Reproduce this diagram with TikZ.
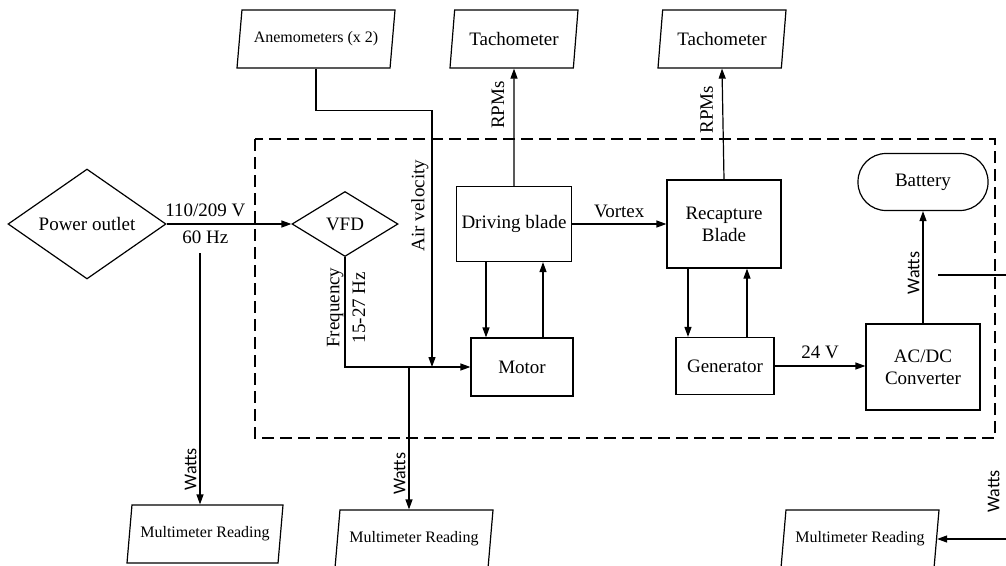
\documentclass[tikz,border=0pt]{standalone}
\usepackage{fontspec}
\setmainfont{Liberation Serif}
\newfontfamily\sansf{Carlito}
\usetikzlibrary{shapes.geometric,arrows.meta}
\begin{document}
\begin{tikzpicture}[x=1pt,y=-1pt,
  font=\fontsize{19}{22}\selectfont,
  line width=1.2pt,
  >={Triangle[length=10pt,width=7pt]},
  box/.style={draw, rectangle, align=center, inner sep=2pt},
  dia/.style={draw, diamond, inner sep=0pt},
  para/.style={draw, trapezium, trapezium left angle=75, trapezium right angle=105,
    trapezium stretches body, minimum height=58pt, inner sep=2pt},
  small/.style={font=\fontsize{16}{18}\selectfont},
  wlab/.style={font=\sansf\fontsize{18}{20}\selectfont},
  vlab/.style={rotate=90, anchor=south, inner sep=3pt},
  dashbox/.style={draw, dash pattern=on 12pt off 6pt, line width=1.1pt}
]
\useasboundingbox (0,0) rectangle (1006,565);
\clip (0,0) rectangle (1006,565);

% dashed system boundary
\draw[dashbox] (255,139) rectangle (995,438);

% nodes
\node[dia, minimum width=158pt, minimum height=90pt] (po) at (87,224) {Power outlet};
\node[dia, minimum width=106pt, minimum height=65pt] (vfd) at (345,224) {VFD};
\node[para, small, minimum width=158pt] (ane) at (316,39) {Anemometers (x 2)};
\node[para, minimum width=128pt] (tach1) at (514,39) {Tachometer};
\node[para, minimum width=128pt] (tach2) at (722,39) {Tachometer};
\node[box, minimum width=115pt, minimum height=75pt] (drv) at (514,224) {Driving blade};
\node[box, minimum width=114pt, minimum height=88pt] (rec) at (724,224) {Recapture\\Blade};
\node[box, minimum width=102pt, minimum height=58pt] (mot) at (522,367) {Motor};
\node[box, minimum width=98pt, minimum height=57pt] (gen) at (725,366) {Generator};
\node[box, minimum width=114pt, minimum height=86pt] (acdc) at (923,367) {AC/DC\\Converter};
\node[draw, rounded corners=28pt, minimum width=130pt, minimum height=57pt] (bat) at (923,182) {Battery};
\node[para, small, minimum width=156pt] (mm1) at (205,534) {Multimeter Reading};
\node[para, small, minimum width=158pt] (mm2) at (414,539) {Multimeter Reading};
\node[para, small, minimum width=158pt] (mm3) at (860,539) {Multimeter Reading};

% helper coordinates
\coordinate (w1) at (200,253);
\coordinate (av) at (432,367);
\coordinate (j2) at (409,367);
\coordinate (r0) at (938,275);
\coordinate (r1) at (1010,275);

% connectors
\draw[->] (po.east) -- (vfd.west)
  node[pos=0.31, above, inner sep=7pt] {110/209 V}
  node[pos=0.31, below, inner sep=6pt] {60 Hz};
\draw[->] (w1) -- (w1 |- mm1.north) node[pos=0.86, vlab, wlab] {Watts};
\draw[->] (vfd.south) |- (mot.west)
  node[pos=0.23, vlab, inner sep=1pt] {Frequency}
  node[pos=0.23, rotate=90, anchor=north, inner sep=7pt] {15-27 Hz};
\draw[->] (ane.south) -- ++(0,42) -| (av) node[pos=0.685, vlab] {Air velocity};
\draw[->] (j2) -- (j2 |- mm2.north) node[pos=0.75, vlab, wlab] {Watts};
\draw[->] (drv.north) -- (tach1.south) node[pos=0.69, vlab, inner sep=9pt] {RPMs};
\draw[->] (rec.north) -- (tach2.south) node[pos=0.63, vlab, inner sep=9pt] {RPMs};
\draw[->] (drv.east) -- (rec.west) node[midway, above, inner sep=6pt] {Vortex};
\draw[->] ([xshift=-28pt]drv.south) -- ([xshift=-28pt]drv.south |- mot.north);
\draw[->] ([xshift=29pt]drv.south |- mot.north) -- ([xshift=29pt]drv.south);
\draw[->] ([xshift=-36pt]rec.south) -- ([xshift=-36pt]rec.south |- gen.north);
\draw[->] ([xshift=23pt]rec.south |- gen.north) -- ([xshift=23pt]rec.south);
\draw[->] (gen.east) -- (gen.east -| acdc.west) node[midway, above, inner sep=7pt] {24 V};
\draw[->] (acdc.north) -- (bat.south) node[pos=0.45, vlab, wlab] {Watts};
\draw[->] (r0) -- (r1) |- (mm3.east) node[pos=0.41, vlab, wlab, inner sep=10pt] {Watts};
\end{tikzpicture}
\end{document}
